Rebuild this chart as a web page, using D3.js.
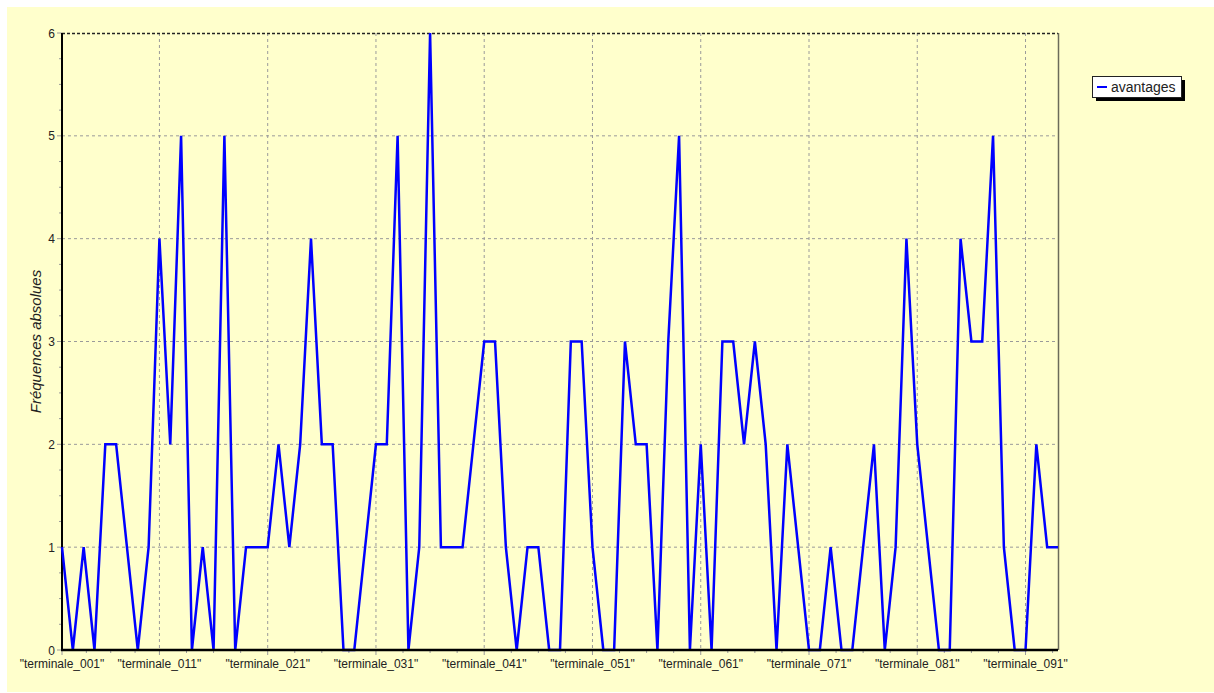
<!DOCTYPE html>
<html>
<head>
<meta charset="utf-8">
<script src="https://cdn.jsdelivr.net/npm/d3@7"></script>
<style>
  html, body { margin: 0; padding: 0; background: #ffffff; }
  svg { display: block; }
  text { font-family: "Liberation Sans", Arial, sans-serif; }
</style>
</head>
<body>
<svg id="chart" width="1214" height="693"></svg>
<script>
// ---- data ----
const categories = [
  "terminale_001","terminale_003","terminale_004","terminale_005","terminale_006","terminale_007","terminale_008","terminale_009","terminale_010","terminale_011",
  "terminale_012","terminale_013","terminale_014","terminale_015","terminale_016","terminale_017","terminale_018","terminale_019","terminale_020","terminale_021",
  "terminale_022","terminale_023","terminale_024","terminale_025","terminale_026","terminale_027","terminale_028","terminale_029","terminale_030","terminale_031",
  "terminale_032","terminale_033","terminale_034","terminale_035","terminale_036","terminale_037","terminale_038","terminale_039","terminale_040","terminale_041",
  "terminale_042","terminale_043","terminale_044","terminale_045","terminale_046","terminale_047","terminale_048","terminale_049","terminale_050","terminale_051",
  "terminale_052","terminale_053","terminale_054","terminale_055","terminale_056","terminale_057","terminale_058","terminale_059","terminale_060","terminale_061",
  "terminale_062","terminale_063","terminale_064","terminale_065","terminale_066","terminale_067","terminale_068","terminale_069","terminale_070","terminale_071",
  "terminale_072","terminale_073","terminale_074","terminale_075","terminale_076","terminale_077","terminale_078","terminale_079","terminale_080","terminale_081",
  "terminale_082","terminale_083","terminale_084","terminale_085","terminale_086","terminale_087","terminale_088","terminale_089","terminale_090","terminale_091",
  "terminale_092","terminale_093","terminale_094"
];
const avantages = [
  1,0,1,0,2,2,1,0,1,4,
  2,5,0,1,0,5,0,1,1,1,
  2,1,2,4,2,2,0,0,1,2,
  2,5,0,1,6,1,1,1,2,3,
  3,1,0,1,1,0,0,3,3,1,
  0,0,3,2,2,0,3,5,0,2,
  0,3,3,2,3,2,0,2,1,0,
  0,1,0,0,1,2,0,1,4,2,
  1,0,0,4,3,3,5,1,0,0,
  2,1,1
];
const xTickCategories = ["terminale_001","terminale_011","terminale_021","terminale_031","terminale_041","terminale_051","terminale_061","terminale_071","terminale_081","terminale_091"];
const yTicks = [0,1,2,3,4,5,6];
const seriesName = "avantages";
const yTitle = "Fréquences absolues";

(function () {
// ---- layout ----
const svg = d3.select("#chart");
const pLeft = 62, pRight = 1058, pTop = 33, pBottom = 650;

svg.append("rect").attr("x", 7).attr("y", 7).attr("width", 1207).attr("height", 685).attr("fill", "#ffffcc");

const x = d3.scalePoint().domain(categories).range([pLeft, pRight]);
const xi = d3.scaleLinear().domain([0, categories.length - 1]).range([pLeft, pRight]);
const y = d3.scaleLinear().domain([0, 6]).range([pBottom, pTop]);

const majorIdx = xTickCategories.map(c => categories.indexOf(c));
const bounds = majorIdx.concat([categories.length - 1]);
const minorIdx = [];
for (let k = 0; k < bounds.length - 1; k++) {
  const a = bounds[k], b = bounds[k + 1];
  const step = (k === 0) ? (b - a) / 4 : 2.5;
  for (let v = a + step; v < b - 0.01; v += step) minorIdx.push(v);
}

const g = svg.append("g");

// gridlines
g.selectAll("line.hgrid").data(yTicks.filter(t => t > 0 && t < 6)).join("line")
  .attr("x1", pLeft).attr("x2", pRight).attr("y1", d => y(d)).attr("y2", d => y(d))
  .attr("stroke", "#9a9a9a").attr("stroke-width", 1).attr("stroke-dasharray", "3,3");
g.selectAll("line.vgrid").data(majorIdx.filter(i => i > 0)).join("line")
  .attr("x1", d => xi(d)).attr("x2", d => xi(d)).attr("y1", pTop).attr("y2", pBottom)
  .attr("stroke", "#9a9a9a").attr("stroke-width", 1).attr("stroke-dasharray", "3,3");

// top & right frame
g.append("line").attr("x1", pLeft).attr("x2", pRight).attr("y1", pTop + 0.5).attr("y2", pTop + 0.5)
  .attr("stroke", "#222").attr("stroke-width", 1.5).attr("stroke-dasharray", "3,2");
g.append("line").attr("x1", pRight + 0.5).attr("x2", pRight + 0.5).attr("y1", pTop).attr("y2", pBottom)
  .attr("stroke", "#6b6b5a").attr("stroke-width", 1.5);

// y ticks
g.selectAll("line.ymaj").data(yTicks).join("line")
  .attr("x1", pLeft - 5).attr("x2", pLeft).attr("y1", d => y(d)).attr("y2", d => y(d))
  .attr("stroke", "#9a9a9a").attr("stroke-width", 1);
const yMinor = d3.range(0, 6, 0.25).filter(v => v % 1 !== 0);
g.selectAll("line.ymin").data(yMinor).join("line")
  .attr("x1", pLeft - 3).attr("x2", pLeft).attr("y1", d => y(d)).attr("y2", d => y(d))
  .attr("stroke", "#9a9a9a").attr("stroke-width", 1);
g.selectAll("text.ylab").data(yTicks).join("text")
  .attr("x", 55).attr("y", d => y(d) + 4.5).attr("text-anchor", "end")
  .attr("font-size", 12).attr("fill", "#222").text(d => d);

// x ticks
g.selectAll("line.xmaj").data(majorIdx).join("line")
  .attr("x1", d => xi(d)).attr("x2", d => xi(d)).attr("y1", pBottom).attr("y2", pBottom + 5)
  .attr("stroke", "#9a9a9a").attr("stroke-width", 1);
g.selectAll("line.xmin").data(minorIdx).join("line")
  .attr("x1", d => xi(d)).attr("x2", d => xi(d)).attr("y1", pBottom).attr("y2", pBottom + 3)
  .attr("stroke", "#9a9a9a").attr("stroke-width", 1);
g.selectAll("text.xlab").data(xTickCategories).join("text")
  .attr("x", d => x(d)).attr("y", 668).attr("text-anchor", "middle")
  .attr("font-size", 12).attr("fill", "#222").text(d => '"' + d + '"');

// left axis line
g.append("line").attr("x1", pLeft).attr("x2", pLeft).attr("y1", pTop).attr("y2", pBottom + 1)
  .attr("stroke", "#000").attr("stroke-width", 2);

// series line
const line = d3.line().x((d, i) => x(categories[i])).y(d => y(d));
g.append("path").datum(avantages).attr("d", line)
  .attr("fill", "none").attr("stroke", "#0000ff").attr("stroke-width", 2.5)
  .attr("stroke-linejoin", "miter");

// bottom axis line (drawn over the series)
g.append("line").attr("x1", pLeft - 1).attr("x2", pRight).attr("y1", pBottom).attr("y2", pBottom)
  .attr("stroke", "#000").attr("stroke-width", 2.6);

// y title
svg.append("text")
  .attr("transform", "translate(41," + ((pTop + pBottom) / 2) + ") rotate(-90)")
  .attr("text-anchor", "middle").attr("font-size", 15).attr("font-style", "italic")
  .attr("fill", "#222").text(yTitle);

// legend
const lg = svg.append("g").attr("transform", "translate(1092,76)");
lg.append("rect").attr("x", 4).attr("y", 4).attr("width", 89).attr("height", 21).attr("fill", "#000");
lg.append("rect").attr("x", 0.5).attr("y", 0.5).attr("width", 89).attr("height", 21)
  .attr("fill", "#ffffff").attr("stroke", "#222").attr("stroke-width", 1);
lg.append("line").attr("x1", 5).attr("x2", 15).attr("y1", 11).attr("y2", 11)
  .attr("stroke", "#0000ff").attr("stroke-width", 2);
lg.append("text").attr("x", 19).attr("y", 16).attr("font-size", 14).attr("fill", "#222").text(seriesName);
})();
</script>
</body>
</html>
